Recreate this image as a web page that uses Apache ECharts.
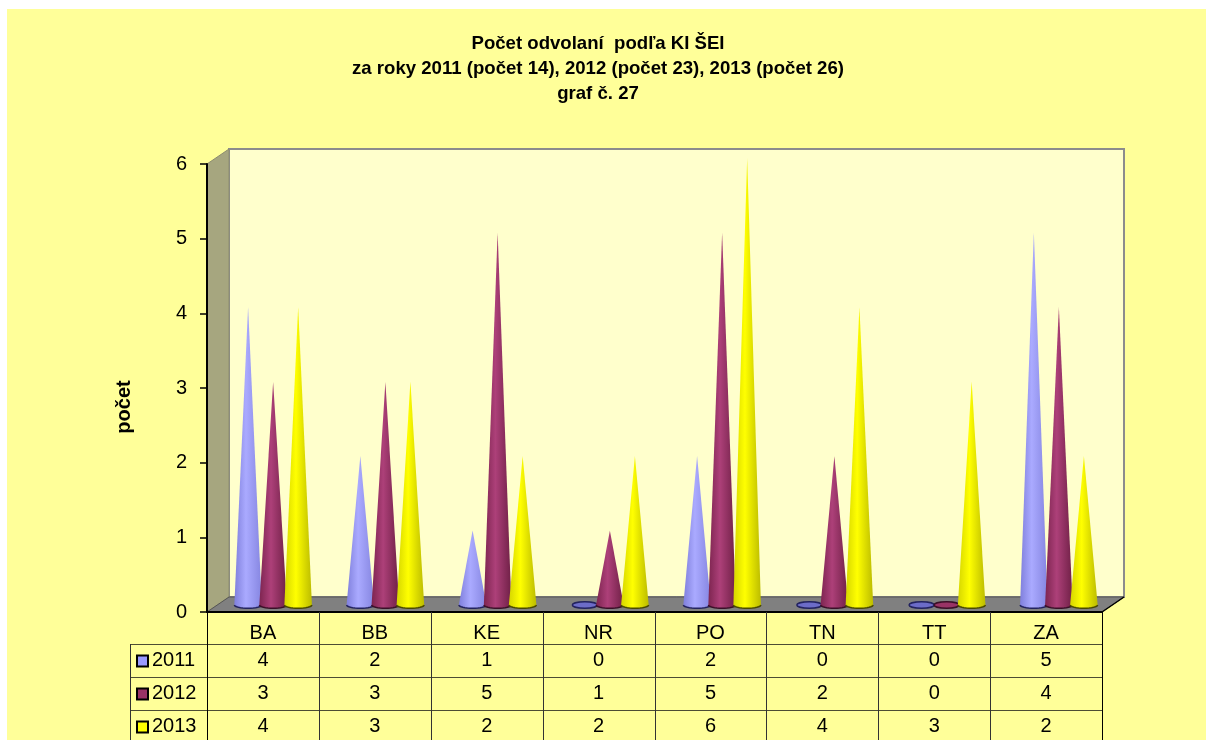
<!DOCTYPE html>
<html>
<head>
<meta charset="utf-8">
<style>
  html, body { margin: 0; padding: 0; background: #fff; overflow: hidden; }
  #chart { width: 1206px; height: 740px; }
</style>
<script src="https://cdn.jsdelivr.net/npm/echarts@6/dist/echarts.min.js"></script>
</head>
<body>
<div id="chart"></div>
<script>
  const categories = ['BA', 'BB', 'KE', 'NR', 'PO', 'TN', 'TT', 'ZA']
  const seriesNames = ['2011', '2012', '2013']
  const values2011 = [4, 2, 1, 0, 2, 0, 0, 5]
  const values2012 = [3, 3, 5, 1, 5, 2, 0, 4]
  const values2013 = [4, 3, 2, 2, 6, 4, 3, 2]
  const yTicks = [0, 1, 2, 3, 4, 5, 6]
  const titleText = 'Počet odvolaní  podľa KI ŠEI\nza roky 2011 (počet 14), 2012 (počet 23), 2013 (počet 26)\ngraf č. 27'
  const yName = 'počet'

  const allValues = [values2011, values2012, values2013]
  const swatch = ['#9999FF', '#993366', '#FFFF00']
  // edge, middle, edge of each cone
  const coneShade = [
    ['#7f7fdc', '#aaaaff', '#8585e0'],
    ['#7d2550', '#ad4079', '#6f2046'],
    ['#d6d600', '#ffff00', '#bcbc00']
  ]
  const rim = ['#23235f', '#3a1028', '#4a4a00']
  const FONT = '"Liberation Sans", Arial, sans-serif'
  const TICK_SIZE = 20

  // front plane of the plot, back wall is shifted by depth
  const plot = {left: 207, top: 164, right: 1102, bottom: 612}
  const depth = {x: 22, y: 15}
  const tableLeft = 130
  const rowY = [644, 677, 710, 743]

  function renderCone(params, api) {
    const s = params.seriesIndex
    const band = api.size([1, 0])[0]
    const step = band * 0.223
    const ry = 3.2
    const base = api.coord([api.value(0), 0])
    const top = api.coord([api.value(0), api.value(1)])
    const cx = base[0] + (s - 1) * step
    const cy = base[1]

    if (api.value(1) === 0) {
      return {
        type: 'ellipse',
        shape: {cx: cx, cy: cy, rx: step * 0.5, ry: ry},
        style: {fill: s === 0 ? '#6c6cc8' : swatch[s], stroke: rim[s], lineWidth: 1.5}
      }
    }
    const r = step * 0.55
    const points = [[cx, top[1]]]
    const arc = []
    for (let i = 0; i <= 16; i++) {
      const a = Math.PI * i / 16
      const p = [cx + r * Math.cos(a), cy + ry * Math.sin(a)]
      points.push(p)
      arc.push(p)
    }
    return {
      type: 'group',
      children: [
        {
          type: 'polygon',
          shape: {points: points},
          style: {
            fill: new echarts.graphic.LinearGradient(0, 0, 1, 0, [
              {offset: 0, color: coneShade[s][0]},
              {offset: 0.42, color: coneShade[s][1]},
              {offset: 1, color: coneShade[s][2]}
            ])
          }
        },
        {
          type: 'polyline',
          shape: {points: arc},
          style: {fill: 'none', stroke: rim[s], lineWidth: 1.5}
        }
      ]
    }
  }

  function tableGraphics() {
    const out = []
    const colW = (plot.right - plot.left) / categories.length
    const line = (x1, y1, x2, y2, color, w) => out.push({
      type: 'line', z: 1, silent: true,
      shape: {x1: x1, y1: y1, x2: x2, y2: y2},
      style: {stroke: color, lineWidth: w}
    })
    rowY.forEach(y => line(tableLeft, y + 0.5, plot.right, y + 0.5, '#4d4d33', 1))
    line(tableLeft + 0.5, rowY[0], tableLeft + 0.5, 740, '#333', 1)
    for (let c = 0; c <= categories.length; c++) {
      const x = Math.round(plot.left + c * colW) + 0.5
      line(x, plot.bottom, x, 740, c === categories.length || c === 0 ? '#000' : '#333', 1)
    }
    seriesNames.forEach((name, r) => {
      const mid = (rowY[r] + rowY[r + 1]) / 2
      out.push({
        type: 'rect', z: 1, silent: true,
        shape: {x: 137, y: mid - 5, width: 11, height: 11},
        style: {fill: swatch[r], stroke: '#000', lineWidth: 2}
      })
      out.push({
        type: 'text', z: 1, silent: true, x: 152, y: mid,
        style: {text: name, font: TICK_SIZE + 'px ' + FONT, fill: '#000', textVerticalAlign: 'middle'}
      })
      allValues[r].forEach((v, c) => out.push({
        type: 'text', z: 1, silent: true,
        x: plot.left + (c + 0.5) * colW, y: mid,
        style: {text: String(v), font: TICK_SIZE + 'px ' + FONT, fill: '#000', textAlign: 'center', textVerticalAlign: 'middle'}
      }))
    })
    return out
  }

  const wallGraphics = [
    {
      type: 'rect', z: -20, silent: true,
      shape: {x: 7, y: 9, width: 1199, height: 731},
      style: {fill: '#FFFF99'}
    },
    {
      type: 'rect', z: -19, silent: true,
      shape: {
        x: plot.left + depth.x, y: plot.top - depth.y,
        width: plot.right - plot.left, height: plot.bottom - plot.top
      },
      style: {fill: '#FFFFCC', stroke: '#8c8c8c', lineWidth: 2}
    },
    {
      type: 'polygon', z: -18, silent: true,
      shape: {points: [
        [plot.left, plot.top],
        [plot.left + depth.x, plot.top - depth.y],
        [plot.left + depth.x, plot.bottom - depth.y],
        [plot.left, plot.bottom]
      ]},
      style: {fill: '#A6A67F', stroke: '#8c8c70', lineWidth: 1}
    },
    {
      type: 'polygon', z: -17, silent: true,
      shape: {points: [
        [plot.left, plot.bottom],
        [plot.left + depth.x, plot.bottom - depth.y],
        [plot.right + depth.x, plot.bottom - depth.y],
        [plot.right, plot.bottom]
      ]},
      style: {fill: '#808080', stroke: '#555', lineWidth: 1}
    },
    {
      type: 'line', z: -16, silent: true,
      shape: {x1: plot.right, y1: plot.bottom, x2: plot.right + depth.x, y2: plot.bottom - depth.y},
      style: {stroke: '#000', lineWidth: 1.5}
    },
    {
      type: 'text', z: 1, silent: true, x: 124, y: 407, rotation: Math.PI / 2,
      style: {text: yName, font: 'bold 20px ' + FONT, fill: '#000', textAlign: 'center', textVerticalAlign: 'middle'}
    }
  ]

  const chart = echarts.init(document.getElementById('chart'), null, {renderer: 'canvas'})
  chart.setOption({
    backgroundColor: '#fff',
    animation: false,
    textStyle: {fontFamily: FONT},
    title: {
      text: titleText,
      left: 593,
      top: 26,
      textAlign: 'center',
      textStyle: {fontFamily: FONT, fontSize: 18.6, fontWeight: 'bold', color: '#000', lineHeight: 25}
    },
    grid: [
      {left: plot.left, top: plot.top, width: plot.right - plot.left, height: plot.bottom - plot.top},
      {left: 217, top: 158, width: 898, height: 447}
    ],
    xAxis: [
      {
        type: 'category', gridIndex: 0, data: categories,
        axisLine: {lineStyle: {color: '#000', width: 2}},
        axisTick: {show: false},
        axisLabel: {interval: 0, fontSize: TICK_SIZE, color: '#000', margin: 11, fontFamily: FONT}
      },
      {type: 'category', gridIndex: 1, data: categories, show: false}
    ],
    yAxis: [
      {
        type: 'value', gridIndex: 0, min: yTicks[0], max: yTicks[yTicks.length - 1], interval: 1,
        axisLine: {show: true, lineStyle: {color: '#000', width: 2}},
        axisTick: {show: true, length: 7, lineStyle: {color: '#000', width: 1.5}},
        axisLabel: {fontSize: TICK_SIZE, color: '#000', margin: 20, fontFamily: FONT},
        splitLine: {show: false}
      },
      {
        type: 'value', gridIndex: 1, min: yTicks[0], max: yTicks[yTicks.length - 1], interval: 1,
        show: false, splitLine: {show: false}
      }
    ],
    series: seriesNames.map((name, i) => ({
      name: name,
      type: 'custom',
      xAxisIndex: 1,
      yAxisIndex: 1,
      z: 3,
      clip: false,
      renderItem: renderCone,
      encode: {x: 0, y: 1},
      data: allValues[i].map((v, c) => [c, v])
    })),
    graphic: wallGraphics.concat(tableGraphics())
  })
</script>
</body>
</html>
